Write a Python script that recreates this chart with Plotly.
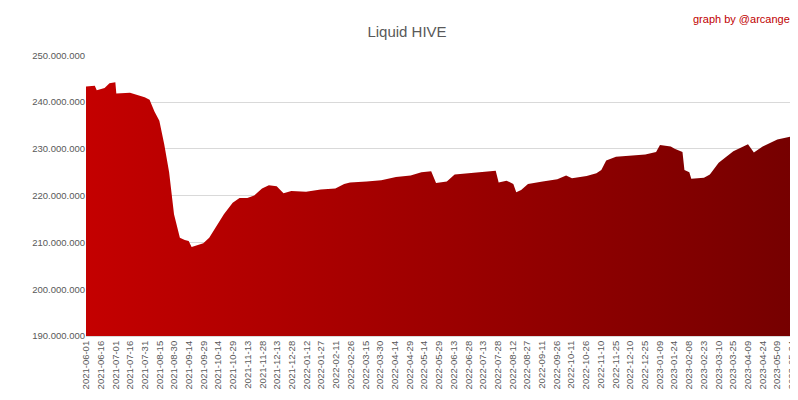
import plotly.graph_objects as go
import pandas as pd

dates = ["2021-06-01","2021-06-10","2021-06-12","2021-06-20","2021-06-25","2021-07-01","2021-07-02","2021-07-16","2021-07-31",
"2021-08-05","2021-08-10","2021-08-15","2021-08-20","2021-08-25","2021-08-30","2021-09-05","2021-09-10","2021-09-14","2021-09-17",
"2021-09-29","2021-10-05","2021-10-14","2021-10-20","2021-10-29","2021-11-05","2021-11-13","2021-11-20","2021-11-28","2021-12-05",
"2021-12-13","2021-12-20","2021-12-28","2022-01-12","2022-01-27","2022-02-11","2022-02-20","2022-02-26","2022-03-15","2022-03-30",
"2022-04-14","2022-04-29","2022-05-10","2022-05-20","2022-05-25","2022-06-05","2022-06-13","2022-06-28","2022-07-13","2022-07-25",
"2022-07-28","2022-08-05","2022-08-12","2022-08-15","2022-08-20","2022-08-27","2022-09-11","2022-09-26","2022-10-05","2022-10-11",
"2022-10-26","2022-11-05","2022-11-10","2022-11-15","2022-11-25","2022-12-10","2022-12-25","2023-01-05","2023-01-09","2023-01-20",
"2023-01-24","2023-02-01","2023-02-03","2023-02-08","2023-02-10","2023-02-23","2023-03-01","2023-03-10","2023-03-25","2023-04-09",
"2023-04-15","2023-04-24","2023-05-09","2023-05-24"]
values_m = [243.3,243.5,242.5,243.0,244.0,244.2,241.8,242.0,241.0,
240.5,238.0,236.0,231.0,225.0,216.0,211.0,210.5,210.3,209.0,
209.8,211.0,214.0,216.0,218.5,219.5,219.5,220.0,221.5,222.2,
222.0,220.5,221.0,220.8,221.3,221.5,222.5,222.8,223.0,223.3,
224.0,224.3,225.0,225.2,222.7,223.0,224.5,224.8,225.2,225.3,
222.8,223.2,222.5,220.7,221.2,222.5,223.0,223.5,224.3,223.7,
224.2,224.8,225.5,227.5,228.3,228.5,228.8,229.3,230.8,230.5,
230.0,229.3,225.5,225.0,223.6,223.8,224.5,227.0,229.5,231.0,
229.2,230.5,232.0,232.7]
values = [v * 1e6 for v in values_m]
tick_labels = ["2021-06-01","2021-06-16","2021-07-01","2021-07-16","2021-07-31","2021-08-15","2021-08-30","2021-09-14",
"2021-09-29","2021-10-14","2021-10-29","2021-11-13","2021-11-28","2021-12-13","2021-12-28","2022-01-12","2022-01-27",
"2022-02-11","2022-02-26","2022-03-15","2022-03-30","2022-04-14","2022-04-29","2022-05-14","2022-05-29","2022-06-13",
"2022-06-28","2022-07-13","2022-07-28","2022-08-12","2022-08-27","2022-09-11","2022-09-26","2022-10-11","2022-10-26",
"2022-11-10","2022-11-25","2022-12-10","2022-12-25","2023-01-09","2023-01-24","2023-02-08","2023-02-23","2023-03-10",
"2023-03-25","2023-04-09","2023-04-24","2023-05-09","2023-05-24"]
y_ticks = list(range(190_000_000, 250_000_001, 10_000_000))

start, end = pd.Timestamp("2021-06-01"), pd.Timestamp("2023-05-24")
n = len(tick_labels)
tick_pos = [start + (end - start) * i / (n - 1) for i in range(n)]

fig = go.Figure(go.Scatter(
    x=dates, y=values, mode="lines", line=dict(width=0, color="#a00000"),
    fill="tozeroy",
    fillgradient=dict(type="horizontal", colorscale=[[0, "#c40000"], [1, "#760000"]]),
    hoverinfo="skip"))

fig.update_layout(
    width=798, height=400, separators=",.",
    paper_bgcolor="white", plot_bgcolor="white",
    margin=dict(l=78, r=14, t=47, b=72),
    title=dict(text="Liquid HIVE", x=0.5, y=0.955, xanchor="center",
               font=dict(family="Liberation Sans, Arial", size=15, color="#595959")),
    font=dict(family="Liberation Sans, Arial", size=9.5, color="#595959"),
    showlegend=False,
    annotations=[dict(text="graph by @arcange", xref="paper", yref="paper", x=1.0, y=1.1,
                      xanchor="right", yanchor="bottom", showarrow=False,
                      font=dict(size=11, color="#c00000"))],
)
fig.update_xaxes(range=[start, end], tickvals=tick_pos, ticktext=tick_labels,
                 tickangle=-90, showgrid=False, showline=True, linecolor="#d9d9d9", ticks="",
                 automargin=False)
fig.update_yaxes(range=[190e6, 250.05e6], tickvals=y_ticks, tickformat=",d", showgrid=True,
                 gridcolor="#d9d9d9", zeroline=False, ticks="", automargin=False)
fig.write_html("out.html")
